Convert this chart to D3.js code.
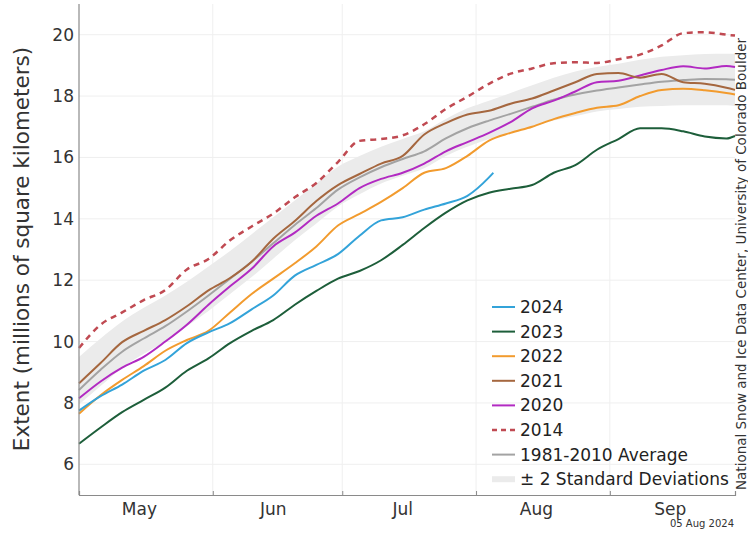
<!DOCTYPE html>
<html>
<head>
<meta charset="utf-8">
<script src="https://cdn.jsdelivr.net/npm/d3@7"></script>
<style>
    body { margin: 0; background: #fff; }
    svg { font-family: "DejaVu Sans", sans-serif; }
</style>
</head>
<body>
<div id="extent-chart"></div>
<script>

// days after May 1
var days = [0,5,10,15,20,25,30,35,40,45,50,55,60,65,70,75,80,85,90,95,100,105,110,115,120,125,130,135,140,145,150,152];
var days2024 = [0,5,10,15,20,25,30,35,40,45,50,55,60,65,70,75,80,85,90,95,96];

var ext2024 = [7.75,8.22,8.6,9.05,9.4,9.95,10.3,10.6,11.05,11.5,12.15,12.5,12.85,13.45,13.95,14.05,14.3,14.5,14.75,15.35,15.5];
var ext2023 = [6.67,7.2,7.7,8.1,8.5,9.05,9.45,9.95,10.35,10.7,11.2,11.65,12.05,12.3,12.65,13.15,13.7,14.2,14.6,14.85,14.98,15.1,15.5,15.75,16.25,16.6,16.95,16.95,16.85,16.68,16.62,16.7];
var ext2022 = [7.65,8.25,8.75,9.2,9.7,10.05,10.35,10.95,11.55,12.05,12.55,13.1,13.78,14.16,14.55,15.0,15.5,15.65,16.05,16.55,16.8,17.0,17.25,17.45,17.62,17.7,18.0,18.2,18.24,18.19,18.1,18.05];
var ext2021 = [8.64,9.3,9.98,10.35,10.7,11.15,11.67,12.07,12.6,13.35,13.93,14.58,15.1,15.46,15.8,16.05,16.75,17.12,17.4,17.52,17.75,17.92,18.18,18.45,18.72,18.75,18.6,18.72,18.45,18.4,18.27,18.2];
var ext2020 = [8.15,8.7,9.15,9.5,10.0,10.55,11.2,11.8,12.37,13.1,13.55,14.1,14.5,15.0,15.3,15.5,15.8,16.2,16.5,16.8,17.15,17.6,17.85,18.15,18.45,18.5,18.67,18.85,18.97,18.9,18.98,18.95];
var ext2014 = [9.79,10.55,10.95,11.35,11.68,12.35,12.69,13.3,13.75,14.17,14.7,15.17,15.85,16.54,16.6,16.72,17.08,17.58,17.98,18.4,18.73,18.9,19.07,19.1,19.08,19.2,19.35,19.65,20.05,20.08,20.0,19.97];
var avg = [8.42,9.08,9.67,10.1,10.5,10.98,11.5,12.05,12.6,13.2,13.8,14.35,14.95,15.35,15.68,15.95,16.2,16.62,16.95,17.2,17.42,17.65,17.88,18.05,18.18,18.28,18.38,18.47,18.52,18.56,18.55,18.53];
var bandUpper = [9.5,10.1,10.65,11.1,11.5,11.95,12.45,12.95,13.5,14.05,14.6,15.15,15.7,16.05,16.35,16.6,16.85,17.25,17.6,17.85,18.1,18.35,18.6,18.8,18.95,19.05,19.18,19.28,19.33,19.37,19.38,19.38];
var bandLower = [7.95,8.55,9.15,9.6,10.0,10.5,11.0,11.55,12.1,12.7,13.3,13.85,14.4,14.8,15.15,15.4,15.65,16.05,16.35,16.6,16.8,17.0,17.2,17.35,17.5,17.58,17.65,17.68,17.7,17.7,17.7,17.68];

var yTicks = [6,8,10,12,14,16,18,20];
var monthLabels = ["May","Jun","Jul","Aug","Sep"];

var width = 748, height = 535;
var margin = {top: 4, right: 13, bottom: 40, left: 79};

function toDate(d) { return new Date(Date.UTC(2024, 4, 1 + d)); }

var svg = d3.select("#extent-chart").append("svg")
    .attr("width", width)
    .attr("height", height);

var x = d3.scaleUtc()
    .domain([toDate(0), toDate(152)])
    .range([margin.left, width - margin.right]);

var y = d3.scaleLinear()
    .domain([5, 21])
    .range([height - margin.bottom, margin.top]);

var monthStarts = d3.utcMonth.range(toDate(0), toDate(153));

// grid
svg.append("g").selectAll("line.h")
    .data(yTicks).enter().append("line")
    .attr("x1", x.range()[0]).attr("x2", x.range()[1])
    .attr("y1", function(d){ return y(d); })
    .attr("y2", function(d){ return y(d); })
    .attr("stroke", "#efefef").attr("stroke-width", 1);

svg.append("g").selectAll("line.v")
    .data(monthStarts.slice(1)).enter().append("line")
    .attr("x1", function(d){ return x(d); })
    .attr("x2", function(d){ return x(d); })
    .attr("y1", y.range()[0]).attr("y2", y.range()[1])
    .attr("stroke", "#efefef").attr("stroke-width", 1);

// +/- 2 standard deviations
var band = days.map(function(d, i){ return {d: d, lo: bandLower[i], hi: bandUpper[i]}; });
svg.append("path")
    .datum(band)
    .attr("fill", "#ebebeb")
    .attr("d", d3.area()
        .curve(d3.curveMonotoneX)
        .x(function(p){ return x(toDate(p.d)); })
        .y0(function(p){ return y(p.lo); })
        .y1(function(p){ return y(p.hi); }));

var line = d3.line()
    .curve(d3.curveMonotoneX)
    .x(function(p){ return x(toDate(p[0])); })
    .y(function(p){ return y(p[1]); });

var series = [
    {name: "2024", days: days2024, values: ext2024, color: "#33a3d9", width: 2, dash: null},
    {name: "2023", days: days, values: ext2023, color: "#1d5e3a", width: 2, dash: null},
    {name: "2022", days: days, values: ext2022, color: "#f29b2e", width: 2, dash: null},
    {name: "2021", days: days, values: ext2021, color: "#a5673f", width: 2, dash: null},
    {name: "2020", days: days, values: ext2020, color: "#b22ac2", width: 2, dash: null},
    {name: "2014", days: days, values: ext2014, color: "#c04a52", width: 2.5, dash: "6,5"},
    {name: "1981-2010 Average", days: days, values: avg, color: "#a3a3a3", width: 2, dash: null}
];

// draw average first, then the years on top
var drawOrder = [6, 5, 4, 3, 2, 1, 0];
drawOrder.forEach(function(k){
    var s = series[k];
    svg.append("path")
        .datum(s.days.map(function(d, i){ return [d, s.values[i]]; }))
        .attr("fill", "none")
        .attr("stroke", s.color)
        .attr("stroke-width", s.width)
        .attr("stroke-dasharray", s.dash)
        .attr("d", line);
});

// axes
svg.append("line")
    .attr("x1", margin.left).attr("x2", margin.left)
    .attr("y1", margin.top).attr("y2", height - margin.bottom)
    .attr("stroke", "#8a8a8a").attr("stroke-width", 1.2);

var xAxis = svg.append("g")
    .attr("transform", "translate(0," + (height - margin.bottom) + ")")
    .call(d3.axisBottom(x).tickValues(monthStarts.slice(1)).tickSize(-4).tickFormat(""));
xAxis.select(".domain").attr("stroke", "#8a8a8a").attr("stroke-width", 1.2);
xAxis.selectAll(".tick line").attr("stroke", "#8a8a8a");

svg.append("g").selectAll("text")
    .data(monthLabels).enter().append("text")
    .attr("x", function(d, i){ return x(new Date(Date.UTC(2024, 4 + i, 15))); })
    .attr("y", height - margin.bottom + 20)
    .attr("text-anchor", "middle")
    .attr("font-size", "17px")
    .attr("fill", "#333")
    .text(function(d){ return d; });

svg.append("g").selectAll("text")
    .data(yTicks).enter().append("text")
    .attr("x", margin.left - 5)
    .attr("y", function(d){ return y(d) + 6; })
    .attr("text-anchor", "end")
    .attr("font-size", "17px")
    .attr("fill", "#333")
    .text(function(d){ return d; });

svg.append("text")
    .attr("transform", "translate(29,249) rotate(-90)")
    .attr("text-anchor", "middle")
    .attr("font-size", "21.5px")
    .attr("fill", "#333")
    .text("Extent (millions of square kilometers)");

// credits
svg.append("text")
    .attr("transform", "translate(746,490) rotate(-90)")
    .attr("font-size", "13.5px")
    .attr("fill", "#333")
    .text("National Snow and Ice Data Center, University of Colorado Boulder");

svg.append("text")
    .attr("x", 734)
    .attr("y", 527)
    .attr("text-anchor", "end")
    .attr("font-size", "10px")
    .attr("fill", "#333")
    .text("05 Aug 2024");

// legend
var legendItems = series.concat([{name: "\u00b1 2 Standard Deviations", color: "#ebebeb", width: 6, dash: null}]);
var legend = svg.append("g").attr("transform", "translate(492,307)");
legendItems.forEach(function(s, i){
    var row = legend.append("g").attr("transform", "translate(0," + (i * 24.6) + ")");
    row.append("line")
        .attr("x1", 0).attr("x2", 23)
        .attr("y1", 0).attr("y2", 0)
        .attr("stroke", s.color)
        .attr("stroke-width", s.width)
        .attr("stroke-dasharray", s.dash ? "5,4" : null);
    row.append("text")
        .attr("x", 28)
        .attr("y", 6)
        .attr("font-size", "17px")
        .attr("fill", "#222")
        .text(s.name);
});

</script>
</body>
</html>
